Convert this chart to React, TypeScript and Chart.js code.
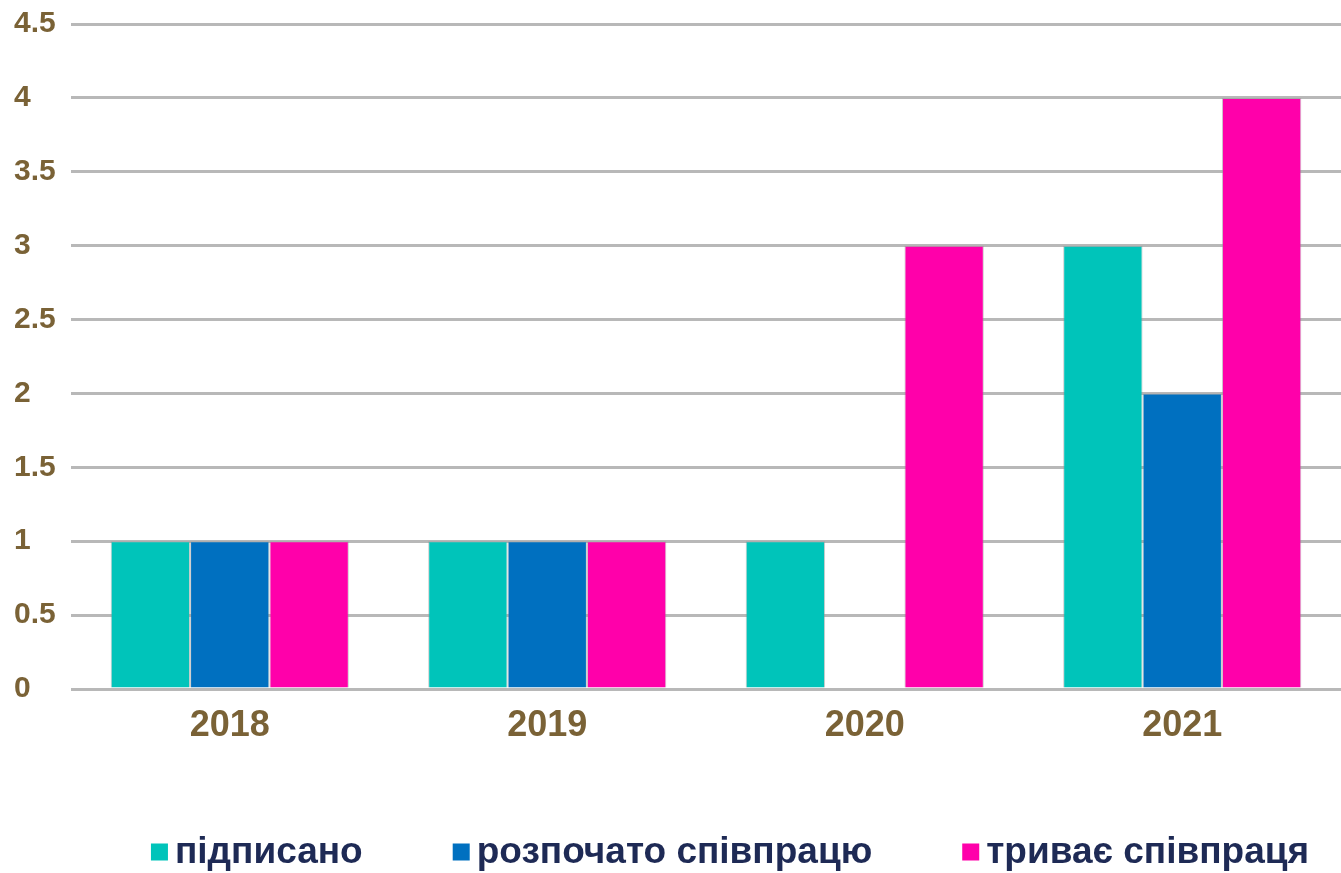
import React, { useEffect, useRef } from "react";
import { Chart, registerables } from "chart.js";

Chart.register(...registerables);

const categories = ["2018", "2019", "2020", "2021"];
const signed = [1, 1, 1, 3];
const started = [1, 1, 0, 2];
const ongoing = [1, 1, 3, 4];
const seriesNames = ["підписано", "розпочато співпрацю", "триває співпраця"];
const seriesColors = ["#00C4BA", "#0070C0", "#FF00AA"];

const FONT = "Arial, 'Liberation Sans', sans-serif";

const customLegend = {
  id: "customLegend",
  afterDraw(chart: any) {
    const ctx = chart.ctx;
    const datasets = chart.data.datasets;
    ctx.save();
    ctx.font = `bold 37px ${FONT}`;
    ctx.textBaseline = "middle";
    ctx.textAlign = "left";
    const box = 17;
    const gapBoxText = 7;
    const gapItems = 90;
    const widths = datasets.map((d: any) => box + gapBoxText + ctx.measureText(d.label).width);
    const total = widths.reduce((a: number, b: number) => a + b, 0) + gapItems * (datasets.length - 1);
    let x = 730 - total / 2;
    const y = 852;
    datasets.forEach((d: any, i: number) => {
      ctx.fillStyle = d.backgroundColor;
      ctx.fillRect(x, y - box / 2, box, box);
      ctx.fillStyle = "#1E2A55";
      ctx.fillText(d.label, x + box + gapBoxText, y + 1);
      x += widths[i] + gapItems;
    });
    ctx.restore();
  },
};

export default function App() {
  const ref = useRef<HTMLCanvasElement>(null);
  useEffect(() => {
    if (!ref.current) return;
    const values = [signed, started, ongoing];
    const chart = new Chart(ref.current, {
      type: "bar",
      data: {
        labels: categories,
        datasets: values.map((v, i) => ({
          label: seriesNames[i],
          data: v,
          backgroundColor: seriesColors[i],
          borderColor: "rgba(150,150,150,0.5)",
          borderWidth: 1,
          categoryPercentage: 0.75,
          barPercentage: 1,
        })),
      },
      options: {
        animation: false,
        responsive: false,
        maintainAspectRatio: false,
        layout: { padding: { top: 24, left: 14, right: 0, bottom: 114 } },
        plugins: { legend: { display: false }, tooltip: { enabled: false } },
        scales: {
          x: {
            grid: { display: false, drawTicks: false },
            border: { display: false },
            ticks: {
              padding: 15,
              color: "#7A6236",
              font: { family: FONT, size: 36, weight: "bold" },
            },
            afterFit: (s: any) => {
              s.height = 70;
            },
          },
          y: {
            min: 0,
            max: 4.5,
            ticks: {
              stepSize: 0.5,
              crossAlign: "far",
              padding: 0,
              color: "#7A6236",
              font: { family: FONT, size: 30, weight: "bold" },
              callback: (v: any) => String(Number(v)),
            },
            grid: { color: "#B8B8B8", lineWidth: 3, drawTicks: false },
            border: { display: false },
            afterFit: (s: any) => {
              s.width = 57;
            },
          },
        },
      },
      plugins: [customLegend],
    } as any);
    return () => chart.destroy();
  }, []);
  return (
    <div style={{ position: "fixed", left: 0, top: 0, width: 1341, height: 873, background: "#fff" }}>
      <canvas ref={ref} width={1341} height={873} style={{ display: "block" }} />
    </div>
  );
}
